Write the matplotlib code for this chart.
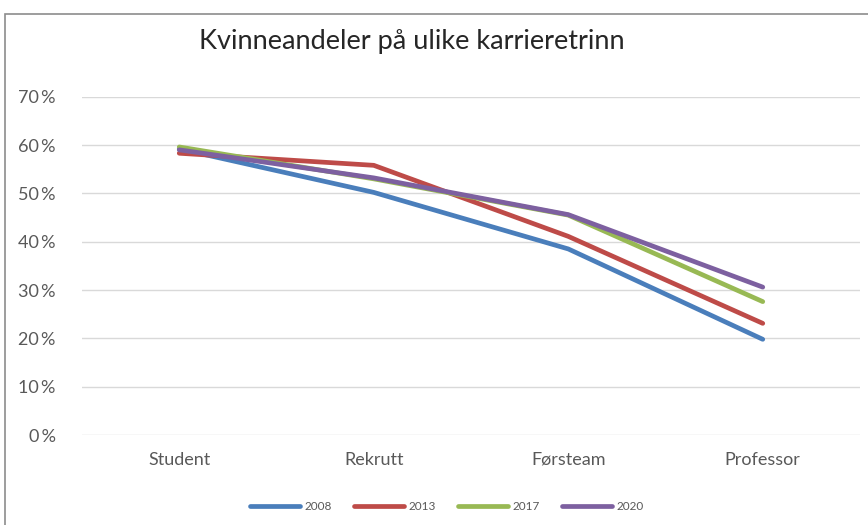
import numpy as np
import matplotlib.pyplot as plt
from matplotlib.patches import Rectangle

categories = ['Student', 'Rekrutt', 'Førsteam', 'Professor']
years = ['2008', '2013', '2017', '2020']
share_2008 = [0.592, 0.502, 0.385, 0.198]
share_2013 = [0.583, 0.558, 0.411, 0.231]
share_2017 = [0.596, 0.530, 0.455, 0.276]
share_2020 = [0.590, 0.532, 0.456, 0.306]
yticks = [0, 0.1, 0.2, 0.3, 0.4, 0.5, 0.6, 0.7]

colors = ['#4A7EBB', '#BE4B48', '#98B954', '#7D60A0']
series = [share_2008, share_2013, share_2017, share_2020]

plt.rcParams['font.family'] = ['Lato', 'DejaVu Sans']
fig = plt.figure(figsize=(8.68, 5.25), dpi=100)
ax = fig.add_axes([82/868, 90/525, 778/868, 338.3/525])

x = np.arange(len(categories))
for vals, c, lab in zip(series, colors, years):
    ax.plot(x, vals, color=c, lw=3.4, solid_capstyle='round', solid_joinstyle='round', label=lab)

ax.set_xlim(-0.5, len(categories) - 0.5)
ax.set_ylim(0, 0.7)
ax.set_yticks(yticks)
ax.set_yticklabels([f'{int(round(t*100))}\u2009%' for t in yticks])
ax.set_xticks(x)
ax.set_xticklabels(categories)
ax.tick_params(axis='both', length=0, labelsize=13, colors='#595959')
ax.tick_params(axis='y', pad=19)
ax.tick_params(axis='x', pad=12)
ax.grid(axis='y', color='#d9d9d9', lw=1)
ax.set_axisbelow(True)
for s in ax.spines.values():
    s.set_visible(False)

fig.text(0.475, 1 - 42/525, 'Kvinneandeler på ulike karrieretrinn', ha='center', va='center',
         fontsize=19.5, color='#262626')

fig.legend(loc='center', bbox_to_anchor=(447/868, 1 - 507/525), ncol=4, frameon=False,
           fontsize=8.5, handlelength=4.2, columnspacing=1.9, handletextpad=0.4,
           labelcolor='#595959')

fig.patches.append(Rectangle((5/868, -0.1), 2, 1 - 14/525 + 0.1, transform=fig.transFigure,
                             fill=False, edgecolor='#8c8c8c', lw=1.2))

fig.savefig('out.png', dpi=100)
